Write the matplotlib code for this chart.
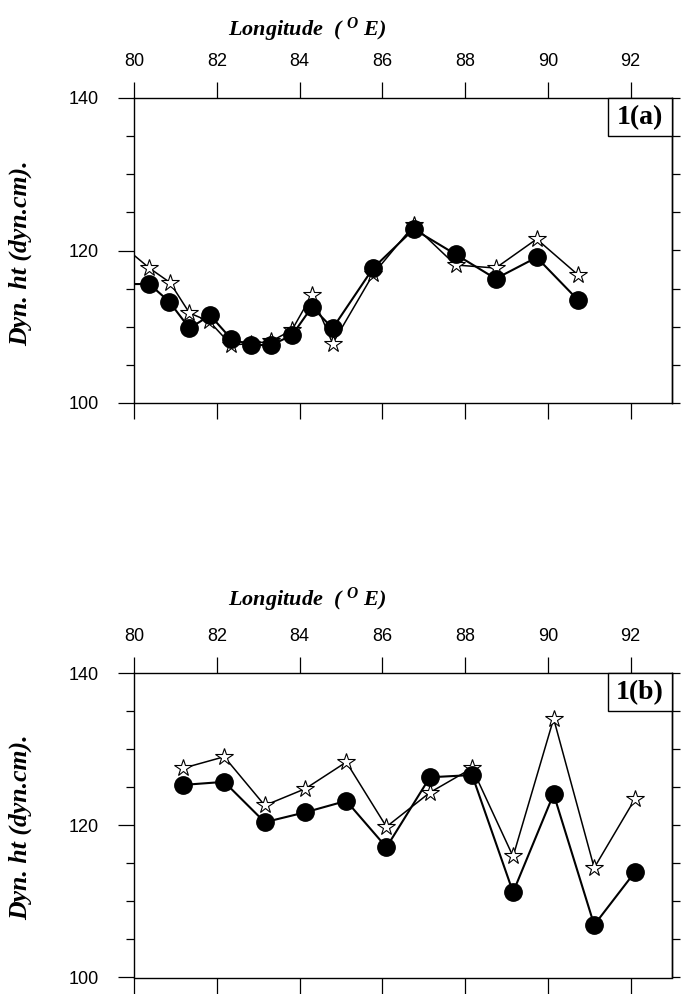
import matplotlib
matplotlib.use("Agg")
import matplotlib.pyplot as plt
from matplotlib.patches import Rectangle
from matplotlib.ticker import MultipleLocator

plt.rcParams['font.family'] = ['Liberation Sans', 'DejaVu Sans']
plt.rcParams['mathtext.fontset'] = 'custom'
plt.rcParams['mathtext.it'] = 'Liberation Serif:italic:bold'
plt.rcParams['mathtext.rm'] = 'Liberation Serif:italic:bold'

# ---- Data panel 1(a) ----
lon_a_circ = [79.6, 80.37, 80.85, 81.34, 81.84, 82.35, 82.83, 83.32, 83.82, 84.30, 84.80,
              85.78, 86.76, 87.77, 88.74, 89.73, 90.73]
val_a_circ = [115.6, 115.6, 113.3, 109.8, 111.5, 108.4, 107.6, 107.6, 108.9, 112.6, 109.8,
              117.7, 122.8, 119.5, 116.3, 119.1, 113.5]
lon_a_star = [79.6, 80.37, 80.87, 81.34, 81.82, 82.35, 82.83, 83.32, 83.82, 84.30, 84.80,
              85.78, 86.76, 87.77, 88.74, 89.73, 90.73]
val_a_star = [121.2, 117.7, 115.8, 111.8, 110.7, 107.6, 107.8, 108.1, 109.6, 114.2, 107.8,
              116.9, 123.3, 118.1, 117.7, 121.5, 116.8]

# ---- Data panel 1(b) ----
lon_b = [81.19, 82.18, 83.16, 84.14, 85.13, 86.10, 87.15, 88.17, 89.16, 90.14, 91.12, 92.11]
val_b_circ = [125.3, 125.7, 120.4, 121.7, 123.2, 117.1, 126.3, 126.6, 111.2, 124.1, 106.9, 113.9]
val_b_star = [127.5, 129.0, 122.6, 124.8, 128.3, 119.8, 124.3, 127.5, 115.9, 134.0, 114.4, 123.5]

xticks = [80, 82, 84, 86, 88, 90, 92]
yticks = [100, 120, 140]
panel_labels = ["1(a)", "1(b)"]

W, H = 683, 994
fig = plt.figure(figsize=(W / 100, H / 100), dpi=100)

def px_rect(left, top, right, bottom):
    return [left / W, 1 - bottom / H, (right - left) / W, (bottom - top) / H]

axes_rects = [px_rect(134, 98, 672, 403), px_rect(134, 673, 672, 977.5)]
title_y = [30, 600]
ylabel_y = [253, 827]
datasets = [
    (lon_a_star, val_a_star, lon_a_circ, val_a_circ),
    (lon_b, val_b_star, lon_b, val_b_circ),
]

serif_bi = dict(family='Liberation Serif', weight='bold', style='italic')
MAJ = 11.5   # points (16 px)
MIN = 5.8    # points (8 px)

for i, rect in enumerate(axes_rects):
    ax = fig.add_axes(rect)
    ls, vs, lc, vc = datasets[i]
    ax.plot(ls, vs, color='black', lw=1.1, marker='*', ms=13, mfc='white',
            mec='black', mew=0.8, zorder=2)
    ax.plot(lc, vc, color='black', lw=1.5, marker='o', ms=12.5, mfc='black',
            mec='black', zorder=3)
    ax.set_xlim(80, 93)
    ax.set_ylim(100, 140)
    ax.set_xticks(xticks)
    ax.set_yticks(yticks)
    ax.yaxis.set_minor_locator(MultipleLocator(5))
    ax.tick_params(axis='x', which='both', direction='out', top=True, bottom=True,
                   labeltop=True, labelbottom=False, length=MAJ, width=0.9,
                   pad=9, labelsize=13)
    ax.tick_params(axis='y', which='major', direction='out', left=True, right=False,
                   length=MAJ, width=0.9, pad=14, labelsize=13)
    ax.tick_params(axis='y', which='minor', direction='out', left=True, right=False,
                   length=MIN, width=0.9)
    for s in ax.spines.values():
        s.set_linewidth(1.0)
    sec = ax.secondary_yaxis('right')
    sec.set_yticks(list(range(100, 141, 5)))
    sec.tick_params(direction='out', length=MIN, width=0.9, labelright=False)
    sec.spines['right'].set_linewidth(1.0)

    ax.add_patch(Rectangle((0.881, 0.875), 0.119, 0.125, transform=ax.transAxes,
                           facecolor='white', edgecolor='black', lw=1.0, zorder=5,
                           clip_on=False))
    ax.text(0.9405, 0.935, panel_labels[i], transform=ax.transAxes, ha='center',
            va='center', fontsize=20, family='Liberation Serif', weight='bold', zorder=6)

    fig.text(307 / W, 1 - title_y[i] / H, r'Longitude  ( $^{O}$ E)', ha='center',
             va='center', fontsize=16, **serif_bi)
    fig.text(20 / W, 1 - ylabel_y[i] / H, 'Dyn. ht (dyn.cm).', rotation=90,
             ha='center', va='center', fontsize=18.5, **serif_bi)

fig.savefig('out.png', dpi=100)
